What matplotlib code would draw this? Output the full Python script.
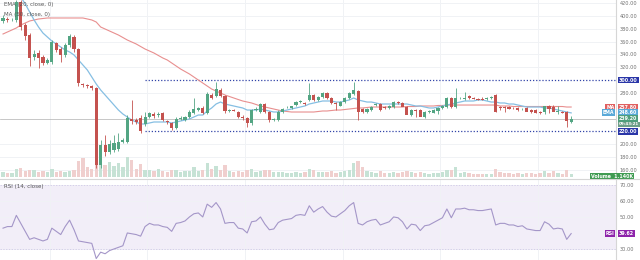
import numpy as np
import matplotlib
matplotlib.use("Agg")
import matplotlib.pyplot as plt

# ---- daily OHLC ----
opens = [392.2, 395.3, 393.8, 393.8, 421.9, 386.0, 370.3, 335.9, 342.2, 335.9, 326.6, 328.1,
         357.8, 348.4, 339.1, 354.7, 367.2, 348.4, 293.8, 292.2, 290.6, 287.5, 167.2, 198.4,
         187.5, 190.6, 192.2, 203.1, 203.1, 239.1, 237.5, 240.6, 231.3, 242.2, 246.9, 245.3,
         248.4, 235.9, 232.8, 225.0, 239.1, 237.5, 242.2, 248.4, 253.1, 256.3, 248.4, 276.6,
         275.0, 284.4, 275.0, 251.6, 253.1, 250.0, 242.2, 240.6, 232.8, 253.1, 250.0, 262.5,
         250.0, 237.5, 237.5, 250.0, 257.8, 256.3, 260.9, 265.6, 264.1, 268.8, 276.6, 268.8,
         273.4, 279.7, 271.9, 264.1, 259.4, 265.6, 271.9, 278.1, 282.8, 254.7, 250.0, 253.1,
         260.9, 262.5, 257.8, 256.3, 257.8, 265.6, 264.1, 257.8, 245.3, 253.1, 253.1, 242.2,
         250.0, 248.4, 251.6, 256.3, 258.1, 271.9, 257.8, 271.9, 270.3, 275.0, 271.9, 270.3,
         270.3, 270.3, 271.9, 276.6, 257.8, 257.8, 257.8, 256.3, 256.3, 254.7, 256.3, 253.1,
         253.1, 250.0, 250.0, 259.4, 257.8, 250.0, 250.0, 250.0, 234.4]
highs = [401.6, 398.4, 396.9, 425.0, 425.0, 389.1, 373.4, 346.9, 346.9, 339.1, 334.4, 362.5,
         359.4, 351.6, 357.8, 371.9, 370.3, 350.0, 295.3, 293.8, 292.2, 289.1, 206.3, 214.1,
         206.3, 214.1, 217.2, 209.4, 245.3, 268.8, 240.6, 245.3, 250.0, 250.0, 250.0, 250.0,
         250.0, 237.5, 234.4, 242.2, 243.8, 243.8, 253.1, 271.9, 257.8, 259.4, 281.3, 279.7,
         296.9, 287.5, 276.6, 254.7, 254.7, 251.6, 245.3, 242.2, 254.7, 257.8, 264.1, 264.1,
         251.6, 240.6, 253.1, 256.3, 259.4, 259.4, 267.2, 268.8, 265.6, 295.3, 278.1, 275.0,
         281.3, 281.3, 273.4, 265.6, 267.2, 273.4, 281.3, 296.9, 284.4, 256.3, 256.3, 259.4,
         264.1, 264.1, 259.4, 260.9, 267.2, 267.2, 265.6, 259.4, 254.7, 254.7, 254.7, 251.6,
         253.1, 254.7, 257.8, 260.9, 273.4, 273.4, 287.5, 273.4, 281.3, 276.6, 273.4, 271.9,
         273.4, 273.4, 275.0, 278.1, 259.4, 259.4, 259.4, 257.8, 257.8, 256.3, 257.8, 254.7,
         254.7, 251.6, 251.6, 260.9, 260.9, 259.4, 251.6, 251.6, 243.8]
lows = [389.1, 390.6, 392.2, 390.6, 378.1, 362.5, 321.9, 331.3, 318.8, 323.4, 325.0, 325.0,
        343.8, 328.1, 335.9, 351.6, 343.8, 290.6, 289.1, 287.5, 284.4, 162.5, 162.5, 181.3,
        184.4, 187.5, 189.1, 201.6, 201.6, 231.3, 231.3, 217.2, 228.1, 240.6, 240.6, 242.2,
        236.0, 231.3, 221.9, 223.4, 237.5, 235.9, 240.6, 246.9, 251.6, 246.9, 246.9, 270.3,
        273.4, 273.4, 248.4, 250.0, 251.6, 240.6, 237.5, 226.6, 229.7, 251.6, 248.4, 248.4,
        234.4, 235.9, 235.9, 248.4, 256.3, 254.7, 259.4, 264.1, 260.9, 267.2, 267.2, 267.2,
        271.9, 270.3, 262.5, 253.1, 259.4, 264.1, 270.3, 276.6, 237.5, 248.4, 248.4, 251.6,
        259.4, 251.6, 254.7, 254.7, 256.3, 262.5, 262.5, 256.3, 243.8, 242.2, 248.4, 240.6,
        248.4, 248.4, 246.9, 254.7, 256.3, 256.3, 256.3, 270.3, 268.8, 270.3, 270.3, 268.8,
        268.8, 268.8, 270.3, 250.0, 253.1, 250.0, 254.7, 254.7, 251.6, 253.1, 254.7, 248.4,
        248.4, 246.9, 246.9, 248.4, 254.7, 246.9, 248.4, 226.6, 232.8]
closes = [396.9, 393.8, 394.5, 421.9, 382.8, 368.8, 334.4, 340.6, 334.4, 326.6, 331.3, 359.4,
          346.9, 339.1, 354.7, 368.8, 348.4, 295.3, 292.2, 290.6, 287.5, 167.2, 198.4, 187.5,
          200.0, 201.6, 203.1, 206.3, 240.6, 235.9, 234.4, 220.3, 242.2, 248.4, 243.8, 246.9,
          237.5, 234.4, 225.0, 239.1, 240.6, 242.2, 250.0, 254.7, 256.3, 248.4, 278.1, 271.9,
          285.9, 275.0, 251.6, 253.1, 252.3, 242.2, 240.6, 232.8, 253.1, 254.7, 262.5, 250.0,
          237.5, 239.1, 250.0, 254.7, 257.8, 259.4, 265.6, 267.2, 262.5, 276.6, 268.8, 273.4,
          279.7, 271.9, 264.1, 262.5, 265.6, 271.9, 279.7, 284.4, 250.0, 250.0, 254.7, 257.8,
          262.5, 253.1, 256.3, 259.4, 265.6, 264.1, 257.8, 245.3, 253.1, 251.6, 242.2, 250.0,
          251.6, 253.1, 256.3, 259.4, 271.9, 257.8, 271.9, 271.9, 271.9, 271.9, 271.1, 268.8,
          269.5, 271.9, 273.4, 250.0, 256.3, 257.0, 254.7, 255.5, 253.1, 254.7, 250.0, 250.0,
          248.4, 248.4, 259.4, 254.7, 250.0, 250.8, 249.2, 235.9, 239.2]
volumes = [2.0, 1.6, 1.8, 3.2, 3.8, 2.6, 3.0, 2.8, 2.2, 2.5, 2.0, 3.4, 2.2, 2.4, 2.0, 2.6,
           3.0, 6.5, 7.8, 4.0, 3.5, 8.8, 7.0, 5.0, 6.2, 4.5, 5.5, 4.0, 8.0, 6.8, 3.5, 5.2,
           3.0, 2.8, 2.5, 3.2, 2.6, 2.2, 3.0, 2.8, 2.0, 2.4, 2.6, 4.0, 2.5, 2.8, 5.5, 3.5,
           4.5, 3.0, 4.8, 2.6, 2.0, 2.4, 2.2, 3.0, 3.2, 2.0, 2.6, 2.8, 3.0, 2.0, 2.2, 2.0,
           1.8, 1.6, 2.2, 1.8, 2.0, 3.5, 2.8, 2.0, 2.2, 2.0, 2.5, 1.8, 2.0, 2.4, 3.0, 5.5,
           6.5, 4.0, 2.6, 2.0, 1.8, 2.4, 1.8, 1.6, 2.0, 1.8, 2.0, 2.4, 2.0, 1.6, 2.2, 1.8,
           1.5, 1.6, 1.8, 2.0, 3.0, 2.8, 4.0, 1.8, 2.0, 1.6, 1.4, 1.5, 1.3, 1.4, 1.5, 3.5,
           2.2, 1.8, 1.6, 1.5, 1.6, 1.4, 1.8, 1.6, 1.5, 1.7, 2.6, 1.8, 2.4, 1.6, 1.5, 3.0,
           1.14]

# ---- indicators ----
ema20 = [456.3, 450.0, 443.8, 437.5, 429.7, 418.8, 406.3, 393.8, 382.8, 373.4, 367.2, 360.9,
         356.3, 351.6, 346.9, 343.8, 339.1, 331.3, 323.4, 315.6, 304.7, 293.8, 284.4, 276.6,
         268.8, 260.9, 253.1, 246.9, 242.2, 237.5, 234.4, 231.3, 231.3, 232.8, 234.4, 234.4,
         234.4, 234.4, 232.8, 234.4, 235.9, 237.5, 239.1, 242.2, 245.3, 245.3, 251.6, 256.3,
         262.5, 265.6, 262.5, 260.9, 259.4, 257.8, 256.3, 253.1, 253.1, 253.1, 254.7, 253.1,
         251.6, 250.0, 250.0, 251.6, 253.1, 254.7, 256.3, 257.8, 259.4, 262.5, 264.1, 265.6,
         267.2, 267.2, 267.2, 265.6, 265.6, 267.2, 268.8, 271.9, 268.8, 267.2, 265.6, 265.6,
         264.1, 262.5, 262.5, 262.5, 262.5, 262.5, 262.5, 262.5, 260.9, 259.4, 259.4, 257.8,
         256.3, 256.3, 257.8, 259.4, 260.9, 262.5, 264.1, 265.6, 267.2, 267.2, 267.2, 268.8,
         268.8, 267.2, 265.6, 265.6, 264.1, 264.1, 262.5, 262.5, 260.9, 259.4, 257.8, 257.8,
         257.8, 257.8, 256.3, 256.3, 254.7, 253.1, 251.6, 250.0, 248.6]
ma50 = [371.9, 375.0, 378.1, 381.3, 385.9, 389.1, 392.2, 393.8, 395.3, 396.1, 396.9, 396.9,
        396.9, 396.9, 396.9, 396.9, 396.9, 396.9, 396.9, 395.3, 393.8, 390.6, 382.8, 379.7,
        376.6, 373.4, 370.3, 366.4, 362.5, 359.4, 356.3, 352.3, 348.4, 345.3, 342.2, 338.3,
        334.4, 331.3, 326.6, 321.9, 317.2, 313.3, 309.4, 304.7, 300.0, 295.3, 290.6, 285.9,
        282.8, 279.7, 276.6, 274.2, 271.9, 269.5, 267.2, 265.6, 264.1, 261.7, 259.4, 257.8,
        256.3, 254.7, 253.1, 251.6, 250.8, 250.0, 250.0, 250.0, 250.0, 250.0, 250.0, 250.8,
        251.6, 251.6, 252.3, 253.1, 253.1, 253.9, 254.7, 255.5, 256.3, 256.3, 257.0, 257.8,
        257.8, 257.8, 257.8, 257.8, 257.8, 257.8, 257.8, 258.6, 258.6, 258.6, 259.4, 259.4,
        259.4, 259.4, 260.2, 260.2, 260.9, 260.9, 260.9, 260.9, 260.9, 260.9, 260.9, 260.9,
        260.9, 260.9, 260.9, 260.9, 259.4, 259.4, 259.4, 258.6, 258.6, 258.6, 258.6, 258.6,
        258.6, 258.6, 258.6, 258.6, 258.6, 258.6, 258.6, 257.8, 257.8]
rsi14 = [43, 44, 44, 51, 46, 41, 36, 37, 36, 35, 36, 43, 41, 39, 44, 48, 42, 35, 34.5, 34,
         33.5, 24, 28, 27, 29, 30, 31, 32, 40, 39.5, 39, 38, 44, 46, 45, 45, 44, 43.5, 41, 46,
         46.5, 47.5, 50, 52, 52.5, 50, 58, 56, 59, 55, 46, 46.5, 46.5, 43, 42.5, 40, 47, 47.5,
         50, 45.5, 42, 42.5, 46.5, 48, 48.5, 49, 51, 51.5, 51, 57, 53, 55, 56.5, 53, 50.5, 50,
         52, 54, 57, 59, 46, 45, 47, 48, 48.5, 45, 46, 47, 50, 49.5, 47, 42.5, 45.5, 45, 41.5,
         44.5, 45, 46.5, 48, 49.5, 55, 49.5, 55, 55, 55.5, 54.5, 54.5, 54, 54, 54.5, 55, 45,
         46, 46, 45, 45, 44, 44.5, 42.5, 42, 41.5, 41.5, 47, 45.5, 42.5, 43, 42.5, 36, 39.62]

price_ticks = [160, 180, 200, 280, 320, 340, 360, 380, 400, 420]
level_lines = [300.0, 220.0]
level_start = 32
rsi_ticks = [30, 50, 60, 70]
countdown = "09:43:21"

UP = "#53a583"
DOWN = "#c4524f"
UP_VOL = "#c6e2d5"
DOWN_VOL = "#f0cfce"
GRID = "#f0f2f5"
AXIS_TXT = "#707070"
TAG_FS = 3.4

n = len(closes)
idx = np.arange(n)
o = np.array(opens); c = np.array(closes)
h = np.array(highs); l = np.array(lows)
up = c >= o

W, H = 640, 260
fig = plt.figure(figsize=(6.4, 2.6), dpi=100)
fig.patch.set_facecolor("white")
ax = fig.add_axes([0.0, 1 - 178 / H, 616 / W, 178 / H])
ax_r = fig.add_axes([0.0, 0.0, 616 / W, 80 / H])

xlim = (-0.68, 138.1)
for a in (ax, ax_r):
    a.set_xlim(*xlim)
    a.set_facecolor("white")
    for s in ("top", "left", "bottom"):
        a.spines[s].set_visible(False)
    a.spines["right"].set_color("#d6d6d6")
    a.spines["right"].set_linewidth(0.8)
    a.yaxis.tick_right()
    a.tick_params(axis="y", length=0, labelsize=3.6, labelcolor=AXIS_TXT, pad=2.5)
    a.tick_params(axis="x", length=0, labelbottom=False)
    a.set_xticks(np.arange(10.5, 138, 22))
    a.grid(True, color=GRID, linewidth=0.7)
    a.set_axisbelow(True)

# ---- price pane ----
ymin, ymax = 146.9, 425.0
ax.set_ylim(ymin, ymax)
ax.set_yticks(price_ticks)
ax.set_yticklabels([f"{t:.2f}" for t in price_ticks])

# volume overlay scaled into the lower part of the pane
vol = np.array(volumes)
vscale = (ymax - ymin) * 0.125 / vol.max()
ax.bar(idx, vol * vscale, bottom=ymin + 1.0, width=0.75,
       color=np.where(up, UP_VOL, DOWN_VOL), zorder=1)

for lv in level_lines:
    ax.hlines(lv, level_start, xlim[1], color="#3244a8", linestyle=(0, (1, 1.5)),
              linewidth=0.9, zorder=2)
ax.axhline(closes[-1], color="#b0b0b0", linewidth=0.5, zorder=2)

ax.plot(idx, ma50, color="#e88f8f", linewidth=0.8, zorder=3)
ax.plot(idx, ema20, color="#86bfe3", linewidth=0.9, zorder=3)

cols = np.where(up, UP, DOWN)
ax.vlines(idx, l, h, colors=cols, linewidth=0.6, zorder=4)
ax.bar(idx, np.maximum(np.abs(c - o), 0.6), bottom=np.minimum(o, c), width=0.7,
       color=cols, zorder=5)

ax.text(0.006, 0.99, "EMA (20, close, 0)", transform=ax.transAxes, fontsize=4.0,
        color="#555555", va="top", ha="left", zorder=12)
ax.text(0.006, 0.935, "MA (50, close, 0)", transform=ax.transAxes, fontsize=4.0,
        color="#555555", va="top", ha="left", zorder=12)

BOX = dict(boxstyle="square,pad=0.2", ec="none")


def tag(axis, yval, text, face, prefix=None, fs=TAG_FS):
    """Value box on the price scale, with an optional name box to its left."""
    tr = axis.get_yaxis_transform()
    axis.text(619 / 616, yval, text, transform=tr, fontsize=fs, color="white",
              va="center", ha="left", fontweight="bold", bbox=dict(BOX, fc=face),
              clip_on=False, zorder=10)
    if prefix:
        axis.text(614.5 / 616, yval, prefix, transform=tr, fontsize=fs,
                  color="white", va="center", ha="right", fontweight="bold",
                  bbox=dict(BOX, fc=face), clip_on=False, zorder=10)


for lv in level_lines:
    tag(ax, lv, f"{lv:.2f}", "#2a36a8")
tag(ax, ma50[-1], f"{ma50[-1]:.2f}", "#e06060", "MA")
tag(ax, ema20[-1], f"{ema20[-1]:.2f}", "#5aa9d8", "EMA")
tag(ax, closes[-1], f"{closes[-1]:.2f}", "#4f9e7c")
tag(ax, closes[-1] - 8.5, countdown, "#6e9e88", fs=2.9)

ax.text(633 / 616, ymin + 2.8, f"Volume  {volumes[-1]:.3f}K", transform=ax.get_yaxis_transform(),
        fontsize=TAG_FS, color="white", va="center", ha="right", fontweight="bold",
        bbox=dict(BOX, fc="#3f9b52"), zorder=10, clip_on=False)

# ---- RSI pane ----
ax_r.set_ylim(23.1, 73.1)
ax_r.axhspan(30, 70, color="#9575cd", alpha=0.12, lw=0, zorder=0)
ax_r.axhline(70, color="#cbbfe6", linewidth=0.5, linestyle=(0, (2, 2)))
ax_r.axhline(30, color="#cbbfe6", linewidth=0.5, linestyle=(0, (2, 2)))
ax_r.plot(idx, rsi14, color="#a496c8", linewidth=0.8, zorder=3)
ax_r.set_yticks(rsi_ticks)
ax_r.set_yticklabels([f"{t:.2f}" for t in rsi_ticks])
ax_r.text(0.006, 0.95, "RSI (14, close)", transform=ax_r.transAxes, fontsize=4.0,
          color="#555555", va="top", ha="left")
tag(ax_r, rsi14[-1], f"{rsi14[-1]:.2f}", "#8e24aa", "RSI")

# pane separator
fig.add_artist(plt.Line2D([0, 1], [1 - 179 / H] * 2, color="#d6d6d6", linewidth=0.8))

fig.savefig("out.png", dpi=100, facecolor="white")
